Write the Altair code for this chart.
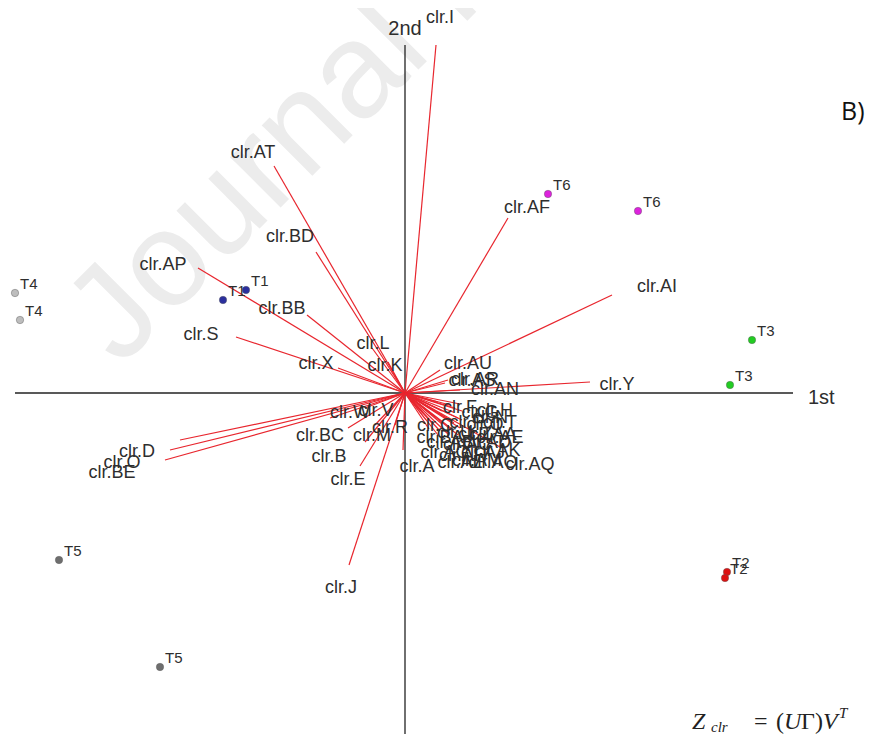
import altair as alt
import pandas as pd

# ---- sample scores (1st, 2nd) ----
sample_names = ["T4", "T4", "T1", "T1", "T6", "T6", "T3", "T3", "T2", "T2", "T5", "T5"]
sample_x = [-3.90, -3.85, -1.82, -1.59, 1.43, 2.33, 3.47, 3.25, 3.22, 3.20, -3.46, -2.45]
sample_y = [1.00, 0.73, 0.93, 1.03, 1.99, 1.82, 0.53, 0.08, -1.79, -1.85, -1.67, -2.74]
sample_colors = ["#bdbdbd", "#bdbdbd", "#2b2f9e", "#2b2f9e", "#dd22dd", "#dd22dd",
                 "#22cc22", "#22cc22", "#dd1111", "#dd1111", "#6e6e6e", "#6e6e6e"]

# ---- variable loadings (arrow tips) and label positions ----
var_names = ["clr.I", "clr.AT", "clr.BD", "clr.AP", "clr.BB", "clr.S", "clr.X", "clr.L", "clr.K",
             "clr.AF", "clr.AI", "clr.Y", "clr.AU", "clr.AR", "clr.AS", "clr.AN", "clr.AQ",
             "clr.D", "clr.O", "clr.BE", "clr.W", "clr.V", "clr.BC", "clr.M", "clr.B", "clr.E",
             "clr.J", "clr.A", "clr.R",
             "clr.F", "clr.G", "clr.H", "clr.N", "clr.P", "clr.Q", "clr.T", "clr.U", "clr.Z",
             "clr.AA", "clr.AB", "clr.AC", "clr.AD", "clr.AE", "clr.AG", "clr.AH", "clr.AJ",
             "clr.AK", "clr.AL", "clr.AM", "clr.AO", "clr.BA", "clr.C"]
var_x = [0.31, -1.31, -0.89, -2.07, -0.98, -1.69, -0.67, -0.33, -0.17,
         1.03, 2.07, 1.85, 0.35, 0.43, 0.40, 0.55, 0.95,
         -2.25, -2.35, -2.40, -0.75, -0.40, -0.57, -0.30, -0.40, -0.45,
         -0.56, -0.02, -0.10,
         0.33, 0.45, 0.55, 0.50, 0.37, 0.48, 0.57, 0.30, 0.42,
         0.53, 0.27, 0.37, 0.49, 0.57, 0.24, 0.35, 0.47,
         0.55, 0.33, 0.43, 0.53, 0.21, 0.18]
var_y = [3.48, 2.27, 1.41, 1.25, 0.78, 0.56, 0.25, 0.45, 0.31,
         1.75, 0.98, 0.11, 0.23, 0.13, 0.10, 0.03, -0.54,
         -0.47, -0.57, -0.67, -0.25, -0.15, -0.35, -0.32, -0.49, -0.73,
         -1.72, -0.57, -0.32,
         -0.09, -0.12, -0.11, -0.15, -0.18, -0.19, -0.18, -0.24, -0.25,
         -0.25, -0.30, -0.31, -0.30, -0.27, -0.36, -0.38, -0.36,
         -0.35, -0.42, -0.41, -0.42, -0.27, -0.20]
label_x = [0.35, -1.52, -1.15, -2.42, -1.23, -2.04, -0.89, -0.32, -0.20,
           1.22, 2.52, 2.12, 0.63, 0.70, 0.67, 0.90, 1.25,
           -2.68, -2.83, -2.93, -0.55, -0.29, -0.85, -0.33, -0.76, -0.57,
           -0.64, 0.12, -0.15,
           0.55, 0.75, 0.90, 0.85, 0.62, 0.80, 0.95, 0.50, 0.70,
           0.88, 0.45, 0.62, 0.82, 0.95, 0.40, 0.58, 0.78,
           0.92, 0.55, 0.72, 0.88, 0.35, 0.30]
label_y = [3.75, 2.40, 1.56, 1.28, 0.84, 0.58, 0.29, 0.49, 0.27,
           1.85, 1.06, 0.08, 0.29, 0.13, 0.12, 0.03, -0.72,
           -0.59, -0.70, -0.80, -0.20, -0.18, -0.43, -0.43, -0.64, -0.87,
           -1.95, -0.74, -0.35,
           -0.15, -0.20, -0.18, -0.25, -0.30, -0.32, -0.30, -0.40, -0.42,
           -0.42, -0.50, -0.52, -0.50, -0.45, -0.60, -0.63, -0.60,
           -0.58, -0.70, -0.68, -0.70, -0.45, -0.33]

X_DOMAIN = [-3.97, 4.62]
Y_DOMAIN = [-3.41, 3.85]

samples = pd.DataFrame({"name": sample_names, "x": sample_x, "y": sample_y, "c": sample_colors})
vars_df = pd.DataFrame({"name": var_names, "x": var_x, "y": var_y, "lx": label_x, "ly": label_y,
                        "x0": 0.0, "y0": 0.0})

xs = alt.Scale(domain=X_DOMAIN, nice=False, zero=False)
ys = alt.Scale(domain=Y_DOMAIN, nice=False, zero=False)
FONT = "Liberation Sans"
TXT = "#2e2e2e"

def X(f):
    return alt.X(f, type="quantitative", scale=xs, axis=None)

def Y(f):
    return alt.Y(f, type="quantitative", scale=ys, axis=None)

# watermark
watermark = alt.Chart(pd.DataFrame({"t": ["Journal Pre-proof"]})).mark_text(
    font=FONT, fontSize=135, color="#ececec", angle=315, align="left", baseline="alphabetic"
).encode(x=alt.value(112), y=alt.value(360), text="t:N")

# axes lines
axes_df = pd.DataFrame({"x": [-3.90, 0.0], "x2": [3.88, 0.0], "y": [0.0, 3.48], "y2": [0.0, -3.49]})
axes = alt.Chart(axes_df).mark_rule(color="#222222", strokeWidth=1.3).encode(
    x=X("x"), x2="x2", y=Y("y"), y2="y2")

axis_lab = pd.DataFrame({"t": ["1st", "2nd"], "x": [4.03, 0.0], "y": [-0.05, 3.64]})
axis_text1 = alt.Chart(axis_lab.iloc[[0]]).mark_text(font=FONT, fontSize=20, color=TXT,
                                                     align="left", baseline="middle").encode(
    x=X("x"), y=Y("y"), text="t:N")
axis_text2 = alt.Chart(axis_lab.iloc[[1]]).mark_text(font=FONT, fontSize=20, color=TXT,
                                                     align="center", baseline="middle").encode(
    x=X("x"), y=Y("y"), text="t:N")

arrows = alt.Chart(vars_df).mark_rule(color="#e8262e", strokeWidth=1.2).encode(
    x=X("x0"), y=Y("y0"), x2="x", y2="y")

var_text = alt.Chart(vars_df).mark_text(font=FONT, fontSize=18, color=TXT,
                                        align="center", baseline="middle").encode(
    x=X("lx"), y=Y("ly"), text="name:N")

pts = alt.Chart(samples).mark_circle(size=55, opacity=1, stroke="#555555", strokeWidth=0.4).encode(
    x=X("x"), y=Y("y"), color=alt.Color("c:N", scale=None))

pt_text = alt.Chart(samples).mark_text(font=FONT, fontSize=15, color=TXT, align="left",
                                       baseline="middle", dx=5, dy=-9).encode(
    x=X("x"), y=Y("y"), text="name:N")

panel = alt.Chart(pd.DataFrame({"t": ["B)"]})).mark_text(
    font="Open Sans", fontSize=25, color="#111111", align="left", baseline="middle"
).encode(x=alt.value(833), y=alt.value(104), text="t:N")

# formula annotation  Z_clr = (UΓ)V^T
f_text = ["Z", "clr", "=", "(", "U", "Γ)", "V", "T"]
f_px = [684, 703, 746, 768, 776, 793, 815, 831]
f_py = [721, 724, 721, 721, 721, 721, 721, 710]
f_size = [24, 15, 24, 24, 24, 24, 24, 15]
f_style = ["italic", "italic", "normal", "normal", "italic", "normal", "italic", "italic"]
formula_layers = []
for t, px, py, s, st in zip(f_text, f_px, f_py, f_size, f_style):
    formula_layers.append(
        alt.Chart(pd.DataFrame({"t": [t]})).mark_text(
            font="Liberation Serif", fontSize=s, fontStyle=st, color="#222222",
            align="left", baseline="alphabetic").encode(
            x=alt.value(px), y=alt.value(py), text="t:N"))

chart = alt.layer(watermark, axes, arrows, var_text, pts, pt_text, axis_text1, axis_text2,
                  panel, *formula_layers).properties(
    width=859, height=726, padding=0, autosize="none", background="white"
).configure_view(strokeWidth=0, stroke="transparent")

chart.save("out.html", embed_options={"renderer": "svg", "actions": False})
